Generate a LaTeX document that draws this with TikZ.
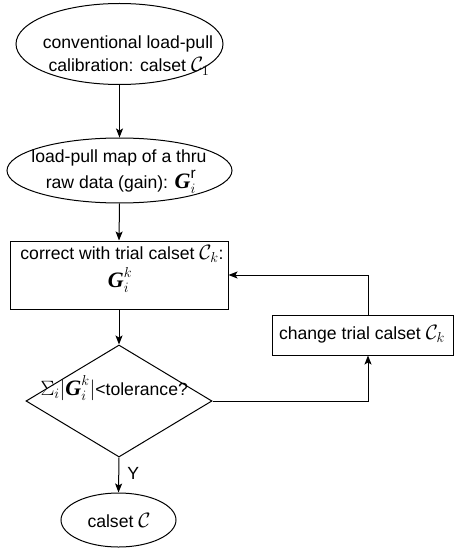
\documentclass[tikz,border=0pt]{standalone}
\usepackage{fontspec}
\setmainfont{Liberation Sans}
\newfontfamily\tms{Liberation Serif}
\usetikzlibrary{shapes.geometric,arrows.meta}
\newcommand\Gv{\mbox{\tms\bfseries\itshape G}}
\newcommand\Mth[1]{{\fontsize{22}{26}\selectfont$#1$}}
\begin{document}
\begin{tikzpicture}[x=1pt,y=-1pt,
  line width=1pt,
  >={Stealth[length=9pt,width=7pt,inset=2pt]},
  font=\fontsize{17.6}{23}\selectfont,
  shp/.style={draw, inner sep=0pt, line width=1pt},
  txt/.style={anchor=base, inner sep=0pt}]
\useasboundingbox (0,0) rectangle (454,548);
% shapes
\node[shp, ellipse, minimum width=207pt, minimum height=81pt] (e1) at (119.5,44) {};
\node[shp, ellipse, minimum width=225pt, minimum height=65pt] (e2) at (119.5,170.5) {};
\node[shp, rectangle, minimum width=218pt, minimum height=68pt] (r1) at (119,275) {};
\node[shp, diamond, minimum width=186pt, minimum height=112pt] (d) at (119,401) {};
\node[shp, ellipse, minimum width=115pt, minimum height=54pt] (e3) at (118.5,520) {};
\node[shp, rectangle, minimum width=181pt, minimum height=40pt] (b) at (362.5,335) {};
% texts
\node[txt] (t1a) at (128,49) {conventional load-pull};
\node[txt] (t1b) at (129,72) {calibration: calset \Mth{\mathcal{C}_1}};
\node[txt] (t2a) at (119,163) {load-pull map of a thru};
\node[txt] (t2b) at (121,188) {raw data (gain): \Mth{\Gv^{\mathrm{r}}_{i}}};
\node[txt] (t3a) at (122,259) {correct with trial calset \Mth{\mathcal{C}_k}:};
\node[txt] (t3b) at (120,287) {\Mth{\Gv^{k}_{i}}};
\node[txt, anchor=base west] (t4) at (40,395) {\Mth{\Sigma_i|\Gv^{k}_{i}|}<tolerance?};
\node[txt] (t5) at (362,339) {change trial calset \Mth{\mathcal{C}_k}};
\node[txt] (t6) at (119,527) {calset \Mth{\mathcal{C}}};
% connectors
\draw[->] (e1.south) -- (e2.north);
\draw[->] (e2.south) -- (r1.north);
\draw[->] (r1.south) -- (d.north);
\draw[->] (d.south) -- node[pos=0.45, right=8pt, inner sep=0pt] (y) {Y} (e3.north);
\draw[->] (d.east) -| ([xshift=5.5pt]b.south);
\draw[->] ([xshift=5.5pt]b.north) |- (r1.east);
\end{tikzpicture}
\end{document}
